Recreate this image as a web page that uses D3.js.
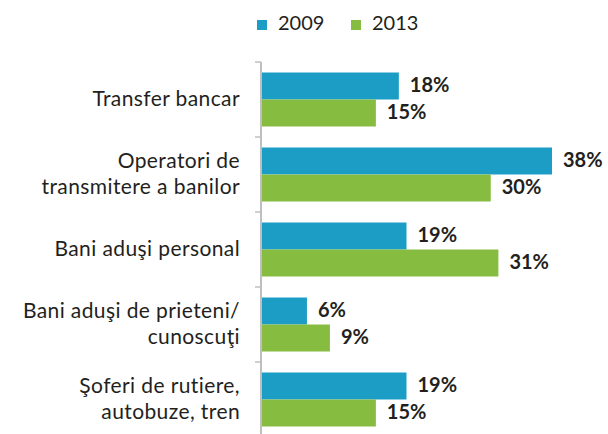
<!DOCTYPE html>
<html>
<head>
<meta charset="utf-8">
<script src="https://cdn.jsdelivr.net/npm/d3@7/dist/d3.min.js"></script>
<style>
  html, body { margin: 0; padding: 0; background: #fff; }
  svg { display: block; }
</style>
</head>
<body>
<svg id="chart" width="608" height="434"></svg>
<script>
// Channels for sending money home, share of respondents
const categories = [
  ["Transfer bancar"],
  ["Operatori de", "transmitere a banilor"],
  ["Bani aduşi personal"],
  ["Bani aduşi de prieteni/", "cunoscuţi"],
  ["Şoferi de rutiere,", "autobuze, tren"]
];
const seriesNames = ["2009", "2013"];
const values2009 = [18, 38, 19, 6, 19];
const values2013 = [15, 30, 31, 9, 15];
const colors = ["#1c9dc5", "#86bc40"];

const svg = d3.select("#chart");
const font = "Lato, 'Open Sans', sans-serif";
const textColor = "#231f20";

const x0 = 261;
const x = d3.scaleLinear().domain([0, 38]).range([x0, 552]);
const y = d3.scaleBand().domain(d3.range(categories.length)).range([62, 437]).paddingInner(0.28).paddingOuter(0.14);
const yInner = d3.scaleBand().domain(seriesNames).range([0, y.bandwidth()]);

// category boundary ticks
const step = y.step();
const boundaries = d3.range(categories.length + 1).map(i => 62 + i * step);
svg.append("g").selectAll("line").data(boundaries).join("line")
  .attr("x1", 255).attr("x2", x0)
  .attr("y1", d => d).attr("y2", d => d)
  .attr("stroke", "#bfbfbf").attr("stroke-width", 1.5);

const series = [values2009, values2013];
const g = svg.append("g");
series.forEach((vals, si) => {
  g.append("g").selectAll("rect").data(vals).join("rect")
    .attr("x", x(0))
    .attr("y", (d, i) => y(i) + yInner(seriesNames[si]))
    .attr("width", d => x(d) - x(0))
    .attr("height", yInner.bandwidth())
    .attr("fill", colors[si]);
  g.append("g").selectAll("text").data(vals).join("text")
    .attr("x", d => x(d) + 11)
    .attr("y", (d, i) => y(i) + yInner(seriesNames[si]) + yInner.bandwidth() / 2)
    .attr("dy", "0.28em")
    .attr("font-family", font).attr("font-weight", "bold").attr("font-size", 20)
    .attr("fill", textColor)
    .text(d => d + "%");
});

// axis line
svg.append("line").attr("x1", x0).attr("x2", x0).attr("y1", 62).attr("y2", 437)
  .attr("stroke", "#bfbfbf").attr("stroke-width", 2);

// category labels, one text per line
const lineH = 25.5;
categories.forEach((lines, i) => {
  const cy = y(i) + y.bandwidth() / 2;
  lines.forEach((ln, j) => {
    svg.append("text")
      .attr("text-anchor", "end")
      .attr("font-family", font).attr("font-size", 21)
      .attr("letter-spacing", 0.4)
      .attr("fill", textColor)
      .attr("x", 240)
      .attr("y", cy + (j - (lines.length - 1) / 2) * lineH)
      .attr("dy", "0.3em")
      .text(ln);
  });
});

// legend
const legendX = [257, 351];
seriesNames.forEach((name, i) => {
  svg.append("rect").attr("x", legendX[i]).attr("y", 20).attr("width", 10).attr("height", 10).attr("fill", colors[i]);
  svg.append("text").attr("x", legendX[i] + 21).attr("y", 30)
    .attr("font-family", font).attr("font-size", 20).attr("fill", textColor).text(name);
});
</script>
</body>
</html>
